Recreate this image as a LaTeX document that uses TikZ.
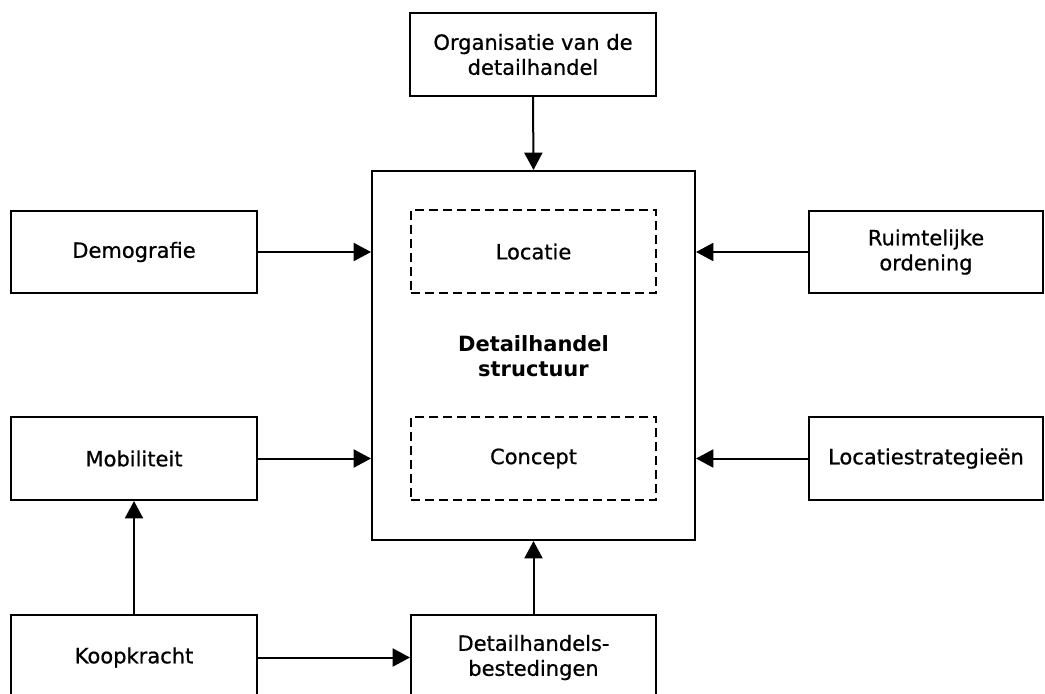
\documentclass[tikz,border=0pt]{standalone}
\usepackage{fontspec}
\setmainfont{DejaVu Sans}
\newfontfamily\lblfont[FakeBold=0.7]{DejaVu Sans}
\usetikzlibrary{arrows.meta}
\tikzset{
  box/.style={draw, line width=1.5pt, rectangle, inner sep=0pt, align=center,
    font=\lblfont\fontsize{15.75}{18.75}\selectfont},
  dbox/.style={box, line width=1.2pt, dash pattern=on 7pt off 3.5pt},
  conn/.style={line width=1.5pt, -{Triangle[length=13pt,width=13.5pt]}}
}
\begin{document}
\begin{tikzpicture}[x=0.75pt,y=-0.75pt]
\clip (0,0) rectangle (1045,693);
\fill[white] (0,0) rectangle (1045,693);
\node[box, minimum width=246*0.75pt, minimum height=83*0.75pt] (org) at (533,54.5) {Organisatie van de\\detailhandel};
\node[box, minimum width=323*0.75pt, minimum height=369*0.75pt] (main) at (533.5,355.5) {};
\node[font=\fontsize{15.75}{18.75}\selectfont\bfseries, align=center] (title) at (533.5,356) {Detailhandel\\structuur};
\node[dbox, minimum width=245*0.75pt, minimum height=83*0.75pt] (loc) at (533.5,251.5) {Locatie};
\node[dbox, minimum width=245*0.75pt, minimum height=83*0.75pt] (con) at (533.5,458.5) {Concept};
\node[box, minimum width=246*0.75pt, minimum height=82*0.75pt] (demo) at (134,252) {Demografie};
\node[box, minimum width=234*0.75pt, minimum height=82*0.75pt] (ruim) at (926,252) {Ruimtelijke\\ordening};
\node[box, minimum width=246*0.75pt, minimum height=83*0.75pt] (mob) at (134,458.5) {Mobiliteit};
\node[box, minimum width=234*0.75pt, minimum height=83*0.75pt] (locs) at (926,458.5) {Locatiestrategieën};
\node[box, minimum width=246*0.75pt, minimum height=85*0.75pt] (koop) at (134,657.5) {Koopkracht};
\node[box, minimum width=245*0.75pt, minimum height=85*0.75pt] (best) at (533.5,657.5) {Detailhandels-\\bestedingen};
\draw[conn] (org.south) -- (main.north);
\draw[conn] (demo.east) -- (demo.east -| main.west);
\draw[conn] (mob.east) -- (mob.east -| main.west);
\draw[conn] (ruim.west) -- (ruim.west -| main.east);
\draw[conn] (locs.west) -- (locs.west -| main.east);
\draw[conn] (koop.north) -- (mob.south);
\draw[conn] (koop.east) -- (best.west);
\draw[conn] (best.north) -- (main.south);
\end{tikzpicture}
\end{document}
